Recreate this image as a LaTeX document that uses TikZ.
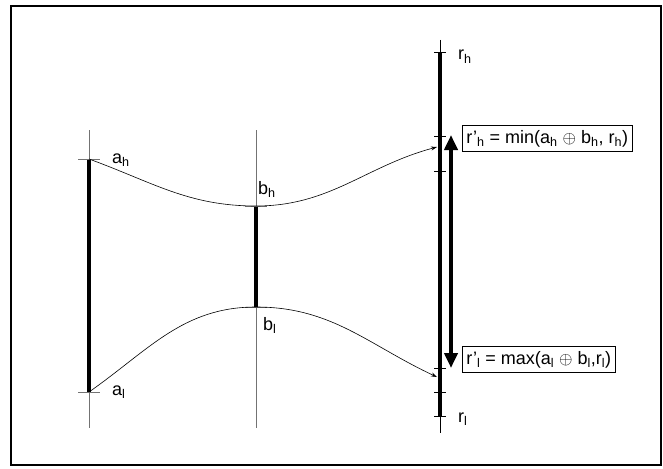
\documentclass[tikz,border=0pt]{standalone}
\usepackage{fontspec}
\setmainfont{Liberation Sans}
\usetikzlibrary{arrows.meta,positioning}
\newcommand{\sub}[1]{\textsubscript{#1}}

\begin{document}
\begin{tikzpicture}[x=1pt,y=-1pt,
  axis/.style={draw=black!55,line width=1pt},
  bar/.style={line width=4pt},
  tik/.style={draw=black!55,line width=1pt},
  rtik/.style={line width=0.8pt},
  lbl/.style={font=\fontsize{18}{21}\selectfont,inner sep=0pt,anchor=base west},
  eqbox/.style={draw,line width=0.8pt,font=\fontsize{18}{21}\selectfont,inner xsep=4pt,inner ysep=4.5pt,anchor=west},
  flow/.style={line width=0.6pt,-{Stealth[length=6pt,width=4pt]}},
  span/.style={line width=4pt,{Triangle[length=15pt,width=13pt]}-{Triangle[length=15pt,width=13pt]}}]
\useasboundingbox (0,0) rectangle (663,468);
\draw[line width=2.5pt] (11,6) rectangle (661,465);
% axes
\coordinate (aT) at (89,130); \coordinate (aB) at (89,428);
\coordinate (bT) at (256,130); \coordinate (bB) at (256,428);
\coordinate (rT) at (440,40); \coordinate (rB) at (440,433);
\draw[axis] (aT) -- (aB);
\draw[axis] (bT) -- (bB);
\draw[line width=1pt] (rT) -- (rB);
\coordinate (ah) at (89,159); \coordinate (al) at (89,392);
\coordinate (bh) at (256,206); \coordinate (bl) at (256,307);
\coordinate (rh) at (440,52); \coordinate (rl) at (440,416);
\draw[bar] (ah) -- (al);
\draw[bar] (bh) -- (bl);
\draw[bar] (rh) -- (rl);
% ticks
\foreach \p in {ah,al,bh,bl}
  \draw[tik] ([xshift=-11pt]\p) -- ([xshift=11pt]\p);
\foreach \y in {52,136,171,368,392,416}
  \draw[rtik] (434,\y) -- (446,\y);
% curves
\coordinate (rhp) at (437,147); \coordinate (rlp) at (437,377);
\draw[flow] (ah) to[out=-20,in=180] (bh) to[out=0,in=195] (rhp);
\draw[flow] (al) to[out=35,in=180] (bl) to[out=0,in=155] (rlp);
\draw[span] (451,135) -- (451,368);
% labels
\node[lbl] (lah) at (112,163) {a\sub{h}};
\node[lbl] (lal) at (112,395) {a\sub{l}};
\node[lbl] (lbh) at (258,194) {b\sub{h}};
\node[lbl] (lbl) at (263,330) {b\sub{l}};
\node[lbl] (lrh) at (458,60) {r\sub{h}};
\node[lbl] (lrl) at (458,422) {r\sub{l}};
\node[eqbox] (eqh) at (462,138.5) {r’\sub{h} = min(a\sub{h} $\oplus$ b\sub{h}, r\sub{h})};
\node[eqbox] (eql) at (462,359.5) {r’\sub{l} = max(a\sub{l} $\oplus$ b\sub{l},r\sub{l})};
\end{tikzpicture}
\end{document}
